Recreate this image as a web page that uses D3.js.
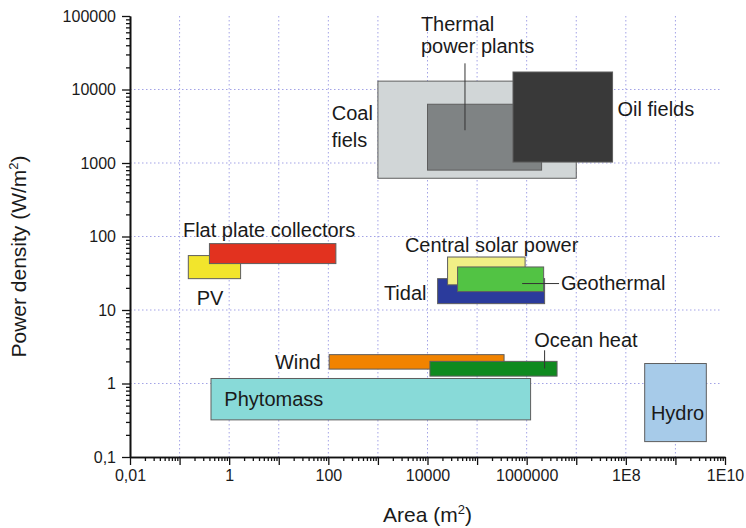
<!DOCTYPE html>
<html>
<head>
<meta charset="utf-8">
<script src="https://cdn.jsdelivr.net/npm/d3@7"></script>
<style>
  body { margin: 0; background: #fff; }
  text { font-family: "Liberation Sans", Arial, sans-serif; fill: #1a1a1a; }
  .axis path, .axis line { stroke: #111; }
  .grid line { stroke: #a3a3e6; stroke-dasharray: 1.5,2.5; }
</style>
</head>
<body>
<script>
// Energy sources, in drawing order (later ones sit on top)
var sources   = ["Coal fields", "Thermal power plants", "Oil fields", "PV", "Flat plate collectors",
                 "Tidal", "Central solar power", "Geothermal", "Wind", "Ocean heat", "Phytomass", "Hydro"];
// area range (m2)
var areaMin   = [1e3,  1e4,  5.3e5, 0.15, 0.4,  1.6e4,  2.54e4, 4.04e4, 104,   1.12e4, 0.43,  2.4e8];
var areaMax   = [1e7,  2e6,  5.4e7, 1.7,  142,  2.3e6,  9.3e5,  2.2e6,  3.5e5, 4.1e6,  1.2e6, 4.2e9];
// power density range (W/m2)
var powerMin  = [620,  800,  1030,  26.7, 42.8, 12.2,   22,     17.8,   1.57,  1.26,   0.32,  0.162];
var powerMax  = [13000, 6300, 17300, 55,  80,   26.7,   52.6,   38.5,   2.47,  2.0,    1.17,  1.87];

// tick labels
var xTickValues = [0.01, 1, 100, 1e4, 1e6, 1e8, 1e10];
var xTickLabels = ["0,01", "1", "100", "10000", "1000000", "1E8", "1E10"];
var yTickValues = [0.1, 1, 10, 100, 1000, 10000, 100000];
var yTickLabels = ["0,1", "1", "10", "100", "1000", "10000", "100000"];

// annotation texts and their anchors (data units: left edge, baseline)
var labelTexts = ["Thermal", "power plants", "Coal", "fiels", "Oil fields", "Flat plate collectors", "PV",
                  "Central solar power", "Tidal", "Geothermal", "Wind", "Ocean heat", "Phytomass", "Hydro"];
var labelArea  = [7360, 7360, 117, 117, 6.8e7, 0.117, 0.221, 3500, 1320, 4.9e6, 8.4, 1.42e6, 0.8, 3.2e8];
var labelPower = [61900, 31100, 3810, 1650, 4320, 97.5, 11.6, 61, 13.6, 18.5, 1.56, 3.14, 0.5, 0.315];

// pointer lines [area1, power1, area2, power2]
var pointers = [[5.7e4, 22700, 5.7e4, 2790], [8.1e5, 22.9, 4.5e6, 22.9], [2.3e6, 2.83, 2.3e6, 1.6]];

var colors = {
  "Coal fields": "#d1d6d7", "Thermal power plants": "#7f8384", "Oil fields": "#393939",
  "PV": "#f2e52c", "Flat plate collectors": "#e2321f", "Tidal": "#2b3b9c",
  "Central solar power": "#f1ef86", "Geothermal": "#52c344", "Wind": "#f18300",
  "Ocean heat": "#0f8a1f", "Phytomass": "#88dad8", "Hydro": "#a7cbe9"
};

var margin = {top: 16, right: 21, bottom: 71, left: 130},
    width = 746 - margin.left - margin.right,
    height = 528 - margin.top - margin.bottom;

var svg = d3.select("body").append("svg")
    .attr("width", 746)
    .attr("height", 528)
  .append("g")
    .attr("transform", "translate(" + margin.left + "," + margin.top + ")");

var x = d3.scaleLog().domain([0.01, 1e10]).range([0, width]);
var y = d3.scaleLog().domain([0.1, 1e5]).range([height, 0]);

// decades and minor ticks
var xDecades = d3.range(-2, 11).map(function(e) { return Math.pow(10, e); });
var yDecades = d3.range(-1, 6).map(function(e) { return Math.pow(10, e); });
function minors(decades) {
  var m = [];
  decades.slice(0, -1).forEach(function(d) {
    for (var k = 2; k < 10; k++) m.push(d * k);
  });
  return m;
}

// grid
svg.append("g").attr("class", "grid")
  .selectAll("line").data(xDecades.slice(1, -1)).enter().append("line")
    .attr("x1", function(d) { return x(d); }).attr("x2", function(d) { return x(d); })
    .attr("y1", 0).attr("y2", height);
svg.append("g").attr("class", "grid")
  .selectAll("line").data(yDecades.slice(1, -1)).enter().append("line")
    .attr("x1", 0).attr("x2", width - 3)
    .attr("y1", function(d) { return y(d); }).attr("y2", function(d) { return y(d); });

// boxes
svg.selectAll(".box")
  .data(sources).enter().append("rect")
    .attr("class", "box")
    .attr("x", function(d, i) { return x(areaMin[i]); })
    .attr("width", function(d, i) { return x(areaMax[i]) - x(areaMin[i]); })
    .attr("y", function(d, i) { return y(powerMax[i]); })
    .attr("height", function(d, i) { return y(powerMin[i]) - y(powerMax[i]); })
    .style("fill", function(d) { return colors[d]; })
    .style("stroke", "#5e5e5e")
    .style("stroke-width", 1);

// pointer lines
svg.selectAll(".pointer")
  .data(pointers).enter().append("line")
    .attr("class", "pointer")
    .attr("x1", function(d) { return x(d[0]); }).attr("y1", function(d) { return y(d[1]); })
    .attr("x2", function(d) { return x(d[2]); }).attr("y2", function(d) { return y(d[3]); })
    .style("stroke", "#333").style("stroke-width", 1);

// labels
svg.selectAll(".label")
  .data(labelTexts).enter().append("text")
    .attr("class", "label")
    .attr("x", function(d, i) { return x(labelArea[i]); })
    .attr("y", function(d, i) { return y(labelPower[i]); })
    .style("font-size", "20px")
    .text(function(d) { return d; });

// x axis
var xAxis = svg.append("g").attr("class", "axis")
    .attr("transform", "translate(0," + height + ")");
xAxis.call(d3.axisBottom(x).tickValues(minors(xDecades)).tickSize(4).tickSizeOuter(0).tickFormat(""));
var xMajor = svg.append("g").attr("class", "axis")
    .attr("transform", "translate(0," + height + ")")
    .call(d3.axisBottom(x).tickValues(xDecades).tickSize(8).tickSizeOuter(0).tickPadding(5)
      .tickFormat(function(d) {
        var i = xTickValues.indexOf(d);
        return i < 0 ? "" : xTickLabels[i];
      }));
xMajor.selectAll("text").style("font-size", "16px").style("fill", "#1a1a1a");

// y axis
svg.append("g").attr("class", "axis")
  .call(d3.axisLeft(y).tickValues(minors(yDecades)).tickSize(4).tickSizeOuter(0).tickFormat(""));
var yMajor = svg.append("g").attr("class", "axis")
  .call(d3.axisLeft(y).tickValues(yTickValues).tickSize(8).tickSizeOuter(0).tickPadding(6)
    .tickFormat(function(d, i) { return yTickLabels[i]; }));
yMajor.selectAll("text").style("font-size", "16px").style("fill", "#1a1a1a");
svg.selectAll(".axis path").style("stroke-width", 1.6);
svg.selectAll(".axis line").style("stroke-width", 1.3);

// axis titles
var xt = svg.append("text")
    .attr("x", 253).attr("y", height + 65)
    .style("font-size", "21px");
xt.append("tspan").text("Area (m");
xt.append("tspan").attr("dy", -8).style("font-size", "13px").text("2");
xt.append("tspan").attr("dy", 8).text(")");

var yt = svg.append("text")
    .attr("transform", "translate(-104," + (height / 2 + 20) + ") rotate(-90)")
    .attr("text-anchor", "middle")
    .style("font-size", "21px");
yt.append("tspan").text("Power density (W/m");
yt.append("tspan").attr("dy", -8).style("font-size", "13px").text("2");
yt.append("tspan").attr("dy", 8).text(")");
</script>
</body>
</html>
